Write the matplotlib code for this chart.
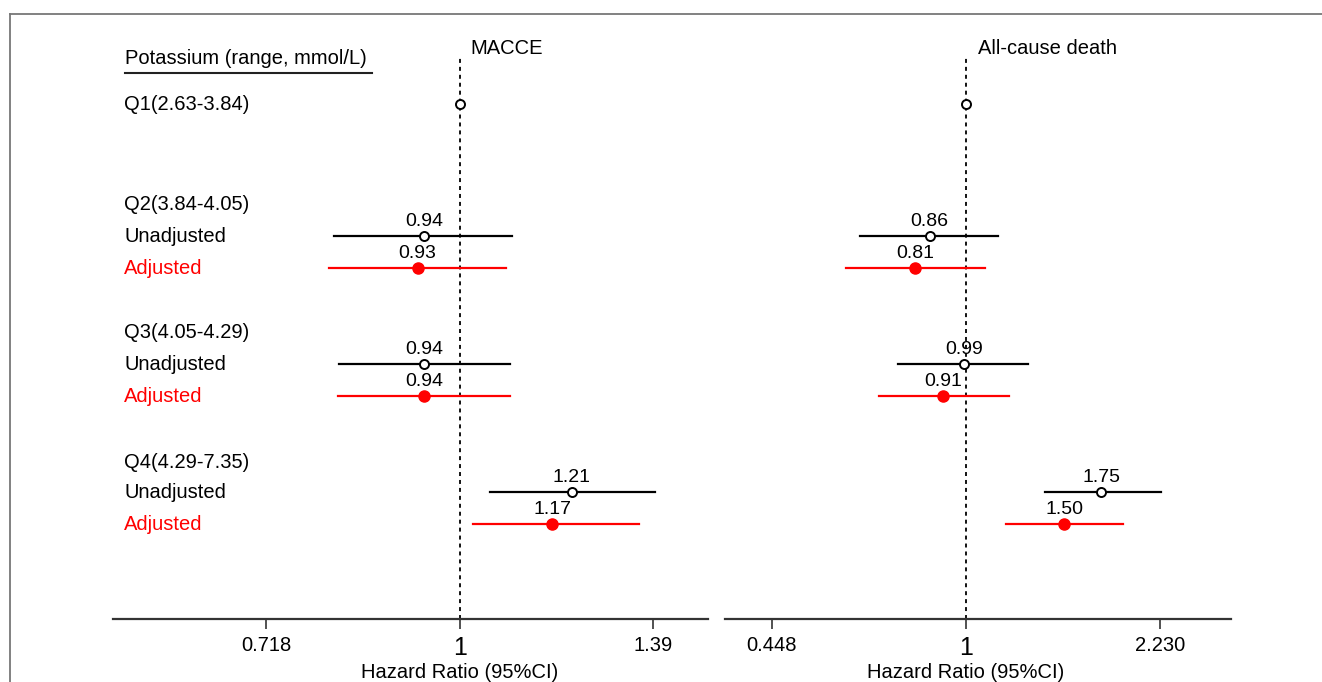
import matplotlib
matplotlib.use("Agg")
import matplotlib.pyplot as plt
from matplotlib.lines import Line2D

plt.rcParams['font.family'] = ['Liberation Sans', 'DejaVu Sans']

# ---------------- data ----------------
header = "Potassium (range, mmol/L)"
groups = ["Q1(2.63-3.84)", "Q2(3.84-4.05)", "Q3(4.05-4.29)", "Q4(4.29-7.35)"]
panel_titles = ["MACCE", "All-cause death"]

# Q2, Q3, Q4 (Q1 is the reference, HR = 1)
macce_unadj_hr = [0.94, 0.94, 1.21]
macce_unadj_lo = [0.806, 0.813, 1.053]
macce_unadj_hi = [1.093, 1.089, 1.395]
macce_adj_hr = [0.93, 0.94, 1.17]
macce_adj_lo = [0.800, 0.812, 1.022]
macce_adj_hi = [1.082, 1.089, 1.358]

death_unadj_hr = [0.86, 0.99, 1.75]
death_unadj_lo = [0.645, 0.755, 1.385]
death_unadj_hi = [1.141, 1.290, 2.240]
death_adj_hr = [0.81, 0.91, 1.50]
death_adj_lo = [0.609, 0.698, 1.178]
death_adj_hi = [1.080, 1.193, 1.916]

macce_ticks = [0.718, 1, 1.39]
macce_ticklabels = ["0.718", "1", "1.39"]
death_ticks = [0.448, 1, 2.230]
death_ticklabels = ["0.448", "1", "2.230"]

# ---------------- layout ----------------
W, H = 1322, 682
fig = plt.figure(figsize=(W / 100, H / 100), dpi=100)

y_top, y_bot = 55, 619
def ax_rect(x0, x1):
    return [x0 / W, (H - y_bot) / H, (x1 - x0) / W, (y_bot - y_top) / H]

axL = fig.add_axes(ax_rect(113, 708))
axR = fig.add_axes(ax_rect(725, 1231))

# row positions (in pixel-like units, inverted axis)
y_ref = 104
y_head = [204, 333, 462]
y_unadj = [236, 364, 492]
y_adj = [268, 396, 524]

FS = 14.5
VFS = 14

def draw_panel(ax, xlim, hr_u, lo_u, hi_u, hr_a, lo_a, hi_a, ticks, ticklabels, title, title_off):
    ax.set_xscale('log')
    ax.set_xlim(*xlim)
    ax.set_ylim(y_bot, y_top)
    ax.axvline(1, color='black', lw=1.3, ls=(0, (2.2, 2.2)), zorder=1)
    # reference
    ax.plot([1], [y_ref], 'o', ms=6.5, mfc='white', mec='black', mew=1.4, zorder=3)
    for i in range(len(hr_u)):
        ax.plot([lo_u[i], hi_u[i]], [y_unadj[i]] * 2, color='black', lw=1.6, zorder=2)
        ax.plot([hr_u[i]], [y_unadj[i]], 'o', ms=6.5, mfc='white', mec='black', mew=1.4, zorder=3)
        ax.text(hr_u[i], y_unadj[i] - 10, f"{hr_u[i]:.2f}", ha='center', va='baseline',
                fontsize=VFS, color='black')
        ax.plot([lo_a[i], hi_a[i]], [y_adj[i]] * 2, color='#ff0000', lw=1.6, zorder=2)
        ax.plot([hr_a[i]], [y_adj[i]], 'o', ms=8, mfc='#ff0000', mec='#ff0000', mew=1, zorder=3)
        ax.text(hr_a[i], y_adj[i] - 10, f"{hr_a[i]:.2f}", ha='center', va='baseline',
                fontsize=VFS, color='black')
    ax.annotate(title, xy=(1, 48), xytext=(title_off, 0), textcoords='offset points',
                ha='left', va='center', fontsize=FS, annotation_clip=False)
    for s in ['left', 'right', 'top']:
        ax.spines[s].set_visible(False)
    ax.spines['bottom'].set_color('#333333')
    ax.spines['bottom'].set_linewidth(1.6)
    ax.set_yticks([])
    ax.minorticks_off()
    ax.set_xticks(ticks)
    ax.set_xticklabels(ticklabels)
    ax.tick_params(axis='x', which='major', length=7, width=1.2, color='#333333',
                   labelsize=FS, pad=5)
    ax.tick_params(axis='x', which='minor', length=0)
    for lab in ax.get_xticklabels():
        if lab.get_text() == "1":
            lab.set_fontsize(18)
    ax.text(1, -0.094, "Hazard Ratio (95%CI)", transform=ax.get_xaxis_transform(),
            ha='center', va='center', fontsize=FS)
    ax.patch.set_alpha(0)

draw_panel(axL, (0.553, 1.527), macce_unadj_hr, macce_unadj_lo, macce_unadj_hi,
           macce_adj_hr, macce_adj_lo, macce_adj_hi, macce_ticks, macce_ticklabels,
           panel_titles[0], 7.2)
draw_panel(axR, (0.369, 2.99), death_unadj_hr, death_unadj_lo, death_unadj_hi,
           death_adj_hr, death_adj_lo, death_adj_hi, death_ticks, death_ticklabels,
           panel_titles[1], 8.6)

# left-hand labels
tr = axL.get_yaxis_transform()
lx = (124 - 113) / 595
axL.text(lx + 0.002, 58, header, transform=tr, ha='left', va='center', fontsize=FS)
axL.plot([(125 - 113) / 595, (372 - 113) / 595], [72.5, 72.5], transform=tr,
         color='#222222', lw=1.5, clip_on=False)
axL.text(lx, y_ref, groups[0], transform=tr, ha='left', va='center', fontsize=FS)
for i in range(3):
    axL.text(lx, y_head[i], groups[i + 1], transform=tr, ha='left', va='center', fontsize=FS)
    axL.text(lx, y_unadj[i], "Unadjusted", transform=tr, ha='left', va='center', fontsize=FS)
    axL.text(lx, y_adj[i], "Adjusted", transform=tr, ha='left', va='center', fontsize=FS,
             color='#ff0000')

# grey frame lines (top and left)
fig.add_artist(Line2D([9.5 / W, 1], [1 - 13.5 / H, 1 - 13.5 / H], transform=fig.transFigure,
                      color='#777777', lw=1.3))
fig.add_artist(Line2D([9.5 / W, 9.5 / W], [0, 1 - 13.5 / H], transform=fig.transFigure,
                      color='#777777', lw=1.3))

fig.savefig("out.png", dpi=100)
